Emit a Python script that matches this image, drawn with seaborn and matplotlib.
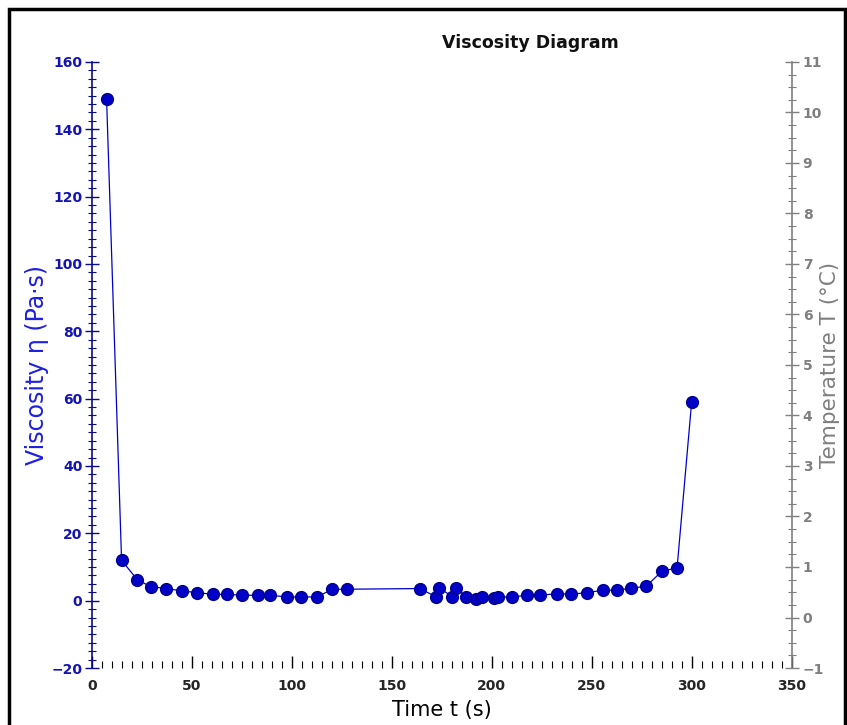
import matplotlib
matplotlib.use("Agg")
import matplotlib.pyplot as plt
import pandas as pd
import seaborn as sns
from matplotlib.patches import Rectangle
from matplotlib.ticker import MultipleLocator

time_s = [7.3, 14.8, 22.7, 29.3, 37.0, 45.0, 52.3, 60.3, 67.7, 75.2,
          83.2, 89.3, 97.7, 104.8, 112.5, 120.3, 127.7, 164.0, 172.3, 173.7,
          180.3, 182.3, 187.3, 192.0, 195.3, 201.0, 203.2, 210.2, 217.7, 224.3,
          232.7, 239.8, 247.7, 255.7, 262.7, 269.8, 277.3, 285.2, 292.7, 300.0]
viscosity = [149.0, 12.0, 6.2, 4.2, 3.6, 2.9, 2.4, 1.9, 1.9, 1.6,
             1.6, 1.6, 1.1, 1.1, 1.1, 3.4, 3.4, 3.6, 1.1, 3.9,
             1.1, 3.7, 1.1, 0.6, 1.1, 0.7, 1.1, 1.1, 1.6, 1.6,
             2.1, 1.9, 2.4, 3.1, 3.1, 3.7, 4.3, 8.8, 9.7, 59.0]

x_ticks = [0, 50, 100, 150, 200, 250, 300, 350]
visc_ticks = [-20, 0, 20, 40, 60, 80, 100, 120, 140, 160]
temp_ticks = list(range(-1, 12))

df = pd.DataFrame({"Time": time_s, "Viscosity": viscosity})

sns.set_style("white")
plt.rcParams["font.family"] = ["DejaVu Sans"]

blue = "#0000c8"
navy = "#0a0a8c"
grey = "#7f7f7f"

fig = plt.figure(figsize=(8.47, 7.25), dpi=100)
ax = fig.add_axes([0.1086, 0.0786, 0.826, 0.836])

sns.lineplot(data=df, x="Time", y="Viscosity", sort=False, ax=ax,
             color=blue, linewidth=0.9, marker="o", markersize=8.5,
             markerfacecolor=blue, markeredgecolor="#00008a", markeredgewidth=1.0)

ax.set_xlim(0, 350)
ax.set_ylim(-20, 160)
ax.set_xticks(x_ticks)
ax.set_yticks(visc_ticks)
ax.xaxis.set_minor_locator(MultipleLocator(5))
ax.yaxis.set_minor_locator(MultipleLocator(2.5))

for side in ["top", "right", "bottom"]:
    ax.spines[side].set_visible(False)
ax.spines["left"].set_color(navy)
ax.spines["left"].set_linewidth(1.2)

ax.tick_params(axis="x", which="major", direction="in", length=9, width=1,
               color="black", labelsize=10, pad=8, bottom=True)
ax.tick_params(axis="x", which="minor", direction="in", length=5, width=0.8,
               color="black", bottom=True)
ax.tick_params(axis="y", which="major", direction="inout", length=10, width=1,
               color=navy, labelcolor="#1414b4", labelsize=10, pad=2, left=True)
ax.tick_params(axis="y", which="minor", direction="inout", length=6, width=0.8,
               color=navy, left=True)
for lab in ax.get_xticklabels() + ax.get_yticklabels():
    lab.set_fontweight("bold")

ax.set_xlabel("Time t (s)", fontsize=15, color="black")
ax.xaxis.set_label_coords(0.5, -0.053)
ax.set_ylabel("Viscosity η (Pa·s)", fontsize=17, color="#1f1fe0")
ax.yaxis.set_label_coords(-0.062, 0.5)

# Temperature axis on the right (no temperature data drawn)
ax2 = ax.twinx()
ax2.set_ylim(-1, 11)
ax2.set_yticks(temp_ticks)
ax2.yaxis.set_minor_locator(MultipleLocator(0.25))
for side in ["top", "left", "bottom"]:
    ax2.spines[side].set_visible(False)
ax2.spines["right"].set_color(grey)
ax2.spines["right"].set_linewidth(1.2)
ax2.tick_params(axis="y", which="major", direction="inout", length=10, width=1,
                color=grey, labelcolor=grey, labelsize=10, pad=3, right=True)
ax2.tick_params(axis="y", which="minor", direction="inout", length=6, width=0.8,
                color=grey, right=True)
for lab in ax2.get_yticklabels():
    lab.set_fontweight("bold")
ax2.set_ylabel("Temperature T (°C)", fontsize=15.5, color=grey)
ax2.yaxis.set_label_coords(1.04, 0.5)

fig.text(0.626, 0.94, "Viscosity Diagram", fontsize=12.5, fontweight="bold",
         ha="center", va="center", color="#111111")

fig.patches.append(Rectangle((0.011, -0.01), 0.987, 0.997, transform=fig.transFigure,
                             fill=False, linewidth=2.5, edgecolor="black"))

plt.savefig("out.png", dpi=100)
